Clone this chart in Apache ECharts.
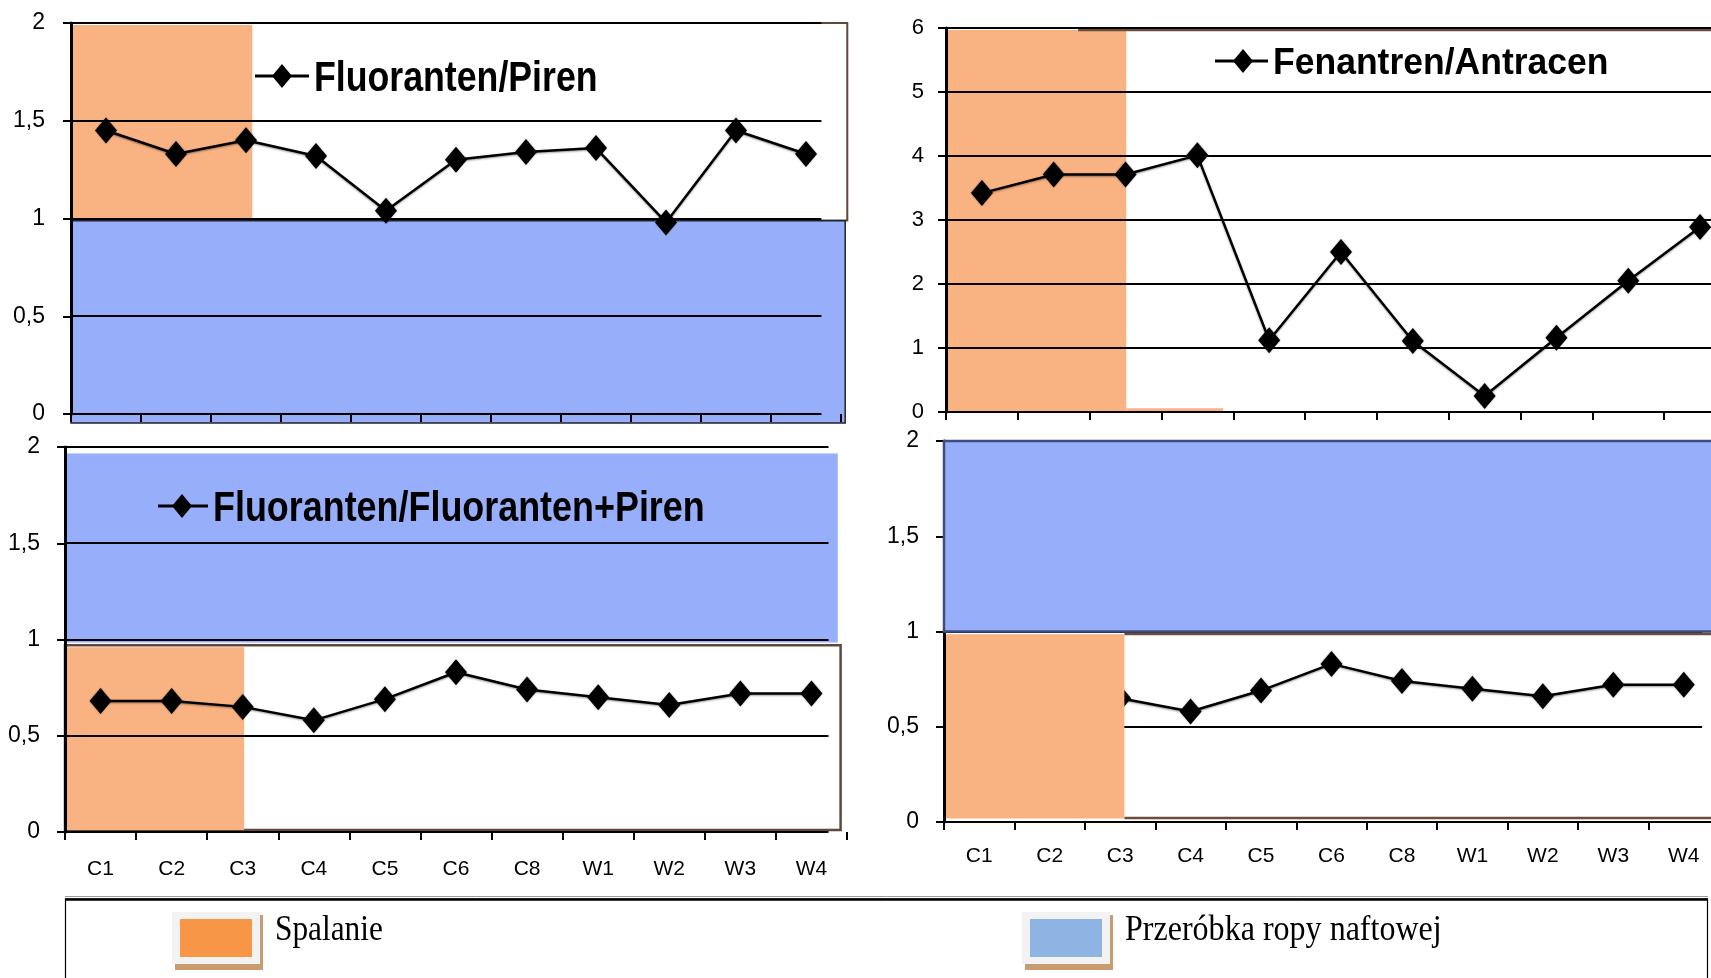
<!DOCTYPE html>
<html>
<head>
<meta charset="utf-8">
<script src="https://cdn.jsdelivr.net/npm/echarts@6/dist/echarts.min.js"></script>
<style>
  html, body { margin: 0; padding: 0; background: #ffffff; }
  #chart { width: 1711px; height: 978px; }
</style>
</head>
<body>
<div id="chart"></div>
<script>
// Sampling sites
const categories = ['C1', 'C2', 'C3', 'C4', 'C5', 'C6', 'C8', 'W1', 'W2', 'W3', 'W4'];

// PAH diagnostic ratios per site
const fluorantenPiren = [1.45, 1.33, 1.40, 1.32, 1.04, 1.30, 1.34, 1.36, 0.98, 1.45, 1.33];
const fenantrenAntracen = [3.42, 3.71, 3.71, 4.01, 1.12, 2.50, 1.11, 0.25, 1.16, 2.05, 2.89];
const fluorantenFluorantenPiren = [0.68, 0.68, 0.65, 0.58, 0.69, 0.83, 0.74, 0.70, 0.66, 0.72, 0.72];

// Value-axis ticks
const ratioTicks = [0, 0.5, 1, 1.5, 2];
const fenAntTicks = [0, 1, 2, 3, 4, 5, 6];

// Text
const seriesNames = ['Fluoranten/Piren', 'Fenantren/Antracen', 'Fluoranten/Fluoranten+Piren'];
const sourceNames = ['Spalanie', 'Przeróbka ropy naftowej'];

const SHADE_ORANGE = '#F9B282';
const SHADE_BLUE = '#97AFFA';
const FRAME_BROWN = '#5E4A3C';
const AXIS_FONT = "'Liberation Sans Narrow', 'Liberation Sans', Arial, sans-serif";

const panels = [
  { grid: { left: 71, top: 23, width: 770, height: 391 }, data: fluorantenPiren, name: seriesNames[0],
    ticks: ratioTicks, max: 2, interval: 0.5, yLabelSize: 23, yMargin: 26, showCat: false, catMargin: 27, gridEnd: 10.72 },
  { grid: { left: 946, top: 28, width: 790, height: 384 }, data: fenantrenAntracen, name: seriesNames[1],
    ticks: fenAntTicks, max: 6, interval: 1, yLabelSize: 22, yMargin: 22, showCat: false, catMargin: 27, gridEnd: 11.5 },
  { grid: { left: 65, top: 447, width: 782, height: 385 }, data: fluorantenFluorantenPiren, name: seriesNames[2],
    ticks: ratioTicks, max: 2, interval: 0.5, yLabelSize: 23, yMargin: 25, showCat: true, catMargin: 27, gridEnd: 10.74 },
  { grid: { left: 944, top: 441, width: 775, height: 381 }, data: fluorantenFluorantenPiren, name: seriesNames[2] + ' ',
    ticks: ratioTicks, max: 2, interval: 0.5, yLabelSize: 23, yMargin: 25, showCat: true, catMargin: 24, gridEnd: 10.76 }
];

const chart = echarts.init(document.getElementById('chart'), null, { renderer: 'canvas' });

const grids = panels.map(p => Object.assign({ outerBoundsMode: 'none', containLabel: false }, p.grid));

const categoryAxes = panels.map((p, i) => ({
  type: 'category',
  gridIndex: i,
  data: categories,
  boundaryGap: true,
  axisLine: { show: false },
  axisTick: { show: true, length: 8, lineStyle: { color: '#000', width: 2 } },
  axisLabel: { show: p.showCat, margin: p.catMargin, color: '#000', fontSize: 21, fontFamily: AXIS_FONT },
  splitLine: { show: false }
}));

// Band-unit axes (0..11) used to place the shaded source regions
const bandAxes = panels.map((p, i) => ({
  type: 'value', gridIndex: i, min: 0, max: categories.length, show: false,
  splitLine: { show: false }
}));

const valueAxes = panels.map((p, i) => ({
  type: 'value',
  gridIndex: i,
  min: 0,
  max: p.max,
  interval: p.interval,
  axisLine: { show: true, lineStyle: { color: '#000', width: 3 } },
  axisTick: { show: true, length: 8, lineStyle: { color: '#000', width: 2 } },
  axisLabel: {
    margin: p.yMargin, color: '#000', fontSize: p.yLabelSize, fontFamily: AXIS_FONT,
    formatter: v => String(v).replace('.', ',')
  },
  splitLine: { show: false }
}));

const series = panels.map((p, i) => ({
  type: 'line',
  name: p.name,
  xAxisIndex: i,
  yAxisIndex: i,
  data: p.data,
  symbol: 'diamond',
  symbolSize: [22, 26],
  z: 3,
  lineStyle: { color: '#000', width: 2.5, shadowColor: 'rgba(0,0,0,0.4)', shadowBlur: 2, shadowOffsetY: 1 },
  itemStyle: { color: '#000', shadowColor: 'rgba(0,0,0,0.35)', shadowBlur: 2 },
  emphasis: { disabled: true }
}));

chart.setOption({
  animation: false,
  backgroundColor: '#ffffff',
  grid: grids,
  xAxis: categoryAxes.concat(bandAxes),
  yAxis: valueAxes,
  series: series
});

// ---- Region shading, grid lines and keys, placed through the chart's own scales ----
const Z_BACK = -3, Z_SHADE = -2, Z_LINES = -1, Z_KEY = 4, Z_FRONT = 6, Z_FRONT2 = 7;

function px(g, bx, v) {
  return chart.convertToPixel({ xAxisIndex: panels.length + g, yAxisIndex: g }, [bx, v]);
}
function box(g, x0, v0, x1, v1, style, z, dx) {
  const a = px(g, x0, v0), b = px(g, x1, v1);
  const left = Math.min(a[0], b[0]) + (dx || 0);
  return {
    type: 'rect', z: z, silent: true,
    shape: { x: left, y: Math.min(a[1], b[1]), width: Math.max(a[0], b[0]) - left, height: Math.abs(b[1] - a[1]) },
    style: style
  };
}
function hline(g, v, x0, x1, stroke, w, z) {
  const a = px(g, x0, v), b = px(g, x1, v);
  return {
    type: 'line', z: z, silent: true,
    shape: { x1: a[0], y1: Math.round(a[1]), x2: b[0], y2: Math.round(b[1]) },
    style: { stroke: stroke, lineWidth: w }
  };
}
function seriesKey(x0, x1, cx, cy, text, fontSize, scaleX) {
  return [
    { type: 'line', z: Z_KEY, silent: true, shape: { x1: x0, y1: cy, x2: x1, y2: cy }, style: { stroke: '#000', lineWidth: 3 } },
    { type: 'polygon', z: Z_KEY, silent: true,
      shape: { points: [[cx, cy - 12], [cx + 10, cy], [cx, cy + 12], [cx - 10, cy]] }, style: { fill: '#000' } },
    { type: 'text', z: Z_KEY, silent: true, x: x1 + 5, y: cy + 3, scaleX: scaleX,
      style: { text: text, fill: '#000', fontSize: fontSize, fontWeight: 'bold', fontFamily: "'Liberation Sans', Arial, sans-serif",
               align: 'left', verticalAlign: 'middle', textAlign: 'left', textVerticalAlign: 'middle' } }
  ];
}
function sourceKey(x, fill, text, scaleX) {
  return [
    { type: 'rect', z: Z_KEY, silent: true, shape: { x: x + 3, y: 915, width: 88, height: 55 }, style: { fill: '#C99B70' } },
    { type: 'rect', z: Z_KEY, silent: true, shape: { x: x, y: 912, width: 88, height: 52 }, style: { fill: '#F2F2F2' } },
    { type: 'rect', z: Z_KEY, silent: true, shape: { x: x + 8, y: 919, width: 72, height: 38 }, style: { fill: fill } },
    { type: 'text', z: Z_KEY, silent: true, x: x + 103, y: 930.5, scaleX: scaleX,
      style: { text: text, fill: '#000', fontSize: 36, fontFamily: "'Liberation Serif', 'Times New Roman', serif",
               align: 'left', verticalAlign: 'middle', textAlign: 'left', textVerticalAlign: 'middle' } }
  ];
}

const el = [];

// Top left: Fluoranten/Piren
el.push(box(0, 0, 2, 11.09, 0.99, { fill: '#fff', stroke: FRAME_BROWN, lineWidth: 2 }, Z_BACK));
el.push(box(0, 0, 0.988, 11.06, -0.046, { fill: SHADE_BLUE, stroke: '#22222c', lineWidth: 1.5 }, Z_BACK));
el.push(box(0, 0, 1.99, 2.59, 1.0, { fill: SHADE_ORANGE }, Z_SHADE));

// Top right: Fenantren/Antracen
el.push(box(1, 0, 5.97, 2.51, 0, { fill: SHADE_ORANGE }, Z_SHADE));
el.push(box(1, 2.51, 0.06, 3.86, 0, { fill: SHADE_ORANGE }, Z_SHADE));
el.push(hline(1, 5.972, 1.84, 11.5, '#6B4E3A', 2.5, Z_SHADE));

// Bottom left: Fluoranten/Fluoranten+Piren
el.push(box(2, 0, 1.97, 10.88, 0.98, { fill: SHADE_BLUE, stroke: 'rgba(255,255,255,0.9)', lineWidth: 1.5 }, Z_BACK));
el.push(box(2, 0, 0.97, 10.91, 0.01, { fill: '#fff', stroke: FRAME_BROWN, lineWidth: 2.5 }, Z_BACK));
el.push(box(2, 0, 0.96, 2.52, 0.01, { fill: SHADE_ORANGE }, Z_SHADE));

// Grid lines for every panel
panels.forEach((p, g) => {
  p.ticks.forEach(v => {
    const end = (g === 3 && v === 0) ? 11.5 : p.gridEnd;
    el.push(hline(g, v, 0, end, '#000', 2, Z_LINES));
  });
});

// Bottom right: same ratio, shaded regions drawn over the line
el.push(hline(3, 0.985, 2.56, 11.5, '#6B4E3A', 2.5, Z_FRONT));
el.push(hline(3, 0.02, 2.56, 11.5, '#6B4E3A', 2.5, Z_FRONT));
el.push(box(3, 0, 0.985, 2.56, 0.018, { fill: SHADE_ORANGE }, Z_FRONT2, 2));
el.push(box(3, 0, 2, 11.5, 1.0, { fill: SHADE_BLUE, stroke: '#3E4C7E', lineWidth: 2.5 }, Z_FRONT2));

// Series keys inside the panels
el.push.apply(el, seriesKey(255, 309, 282, 76, seriesNames[0], 43, 0.83));
el.push.apply(el, seriesKey(1215, 1268, 1243, 61, seriesNames[1], 37, 0.96));
el.push.apply(el, seriesKey(158, 208, 182, 506, seriesNames[2], 43, 0.835));

// Source key box at the bottom
el.push({ type: 'line', z: Z_KEY, silent: true, shape: { x1: 65, y1: 896.5, x2: 1708, y2: 896.5 }, style: { stroke: '#9a9a9a', lineWidth: 1 } });
el.push({ type: 'rect', z: Z_KEY, silent: true, shape: { x: 65.5, y: 899, width: 1642, height: 120 },
          style: { fill: '#fff', stroke: '#000', lineWidth: 1.2 } });
el.push({ type: 'line', z: Z_KEY, silent: true, shape: { x1: 65, y1: 899.5, x2: 1708, y2: 899.5 }, style: { stroke: '#000', lineWidth: 2.5 } });
el.push.apply(el, sourceKey(172, '#F79646', sourceNames[0], 0.87));
el.push.apply(el, sourceKey(1022, '#8EB4E3', sourceNames[1], 0.89));

chart.setOption({ graphic: { elements: el } });
</script>
</body>
</html>
